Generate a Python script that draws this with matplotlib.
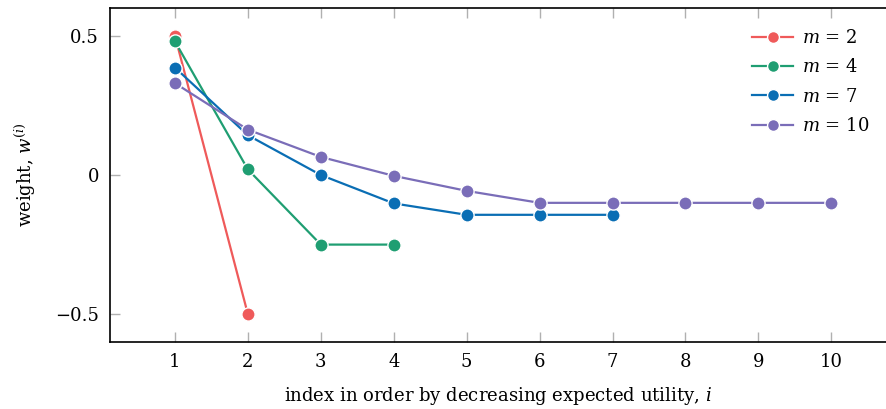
import numpy as np
import matplotlib.pyplot as plt

plt.rcParams['font.family'] = ['DejaVu Serif']
plt.rcParams['mathtext.fontset'] = 'dejavuserif'

# weights per number of alternatives m
idx2 = [1, 2]
w2 = [0.5, -0.5]
idx4 = [1, 2, 3, 4]
w4 = [0.48, 0.02, -0.25, -0.25]
idx7 = [1, 2, 3, 4, 5, 6, 7]
w7 = [0.386, 0.143, 0.0, -0.102, -0.143, -0.143, -0.143]
idx10 = [1, 2, 3, 4, 5, 6, 7, 8, 9, 10]
w10 = [0.33, 0.163, 0.065, -0.003, -0.057, -0.1, -0.1, -0.1, -0.1, -0.1]

series = [
    (idx2, w2, '#ef5a5a', r'$m$ = 2'),
    (idx4, w4, '#1f9e72', r'$m$ = 4'),
    (idx7, w7, '#0a6eb4', r'$m$ = 7'),
    (idx10, w10, '#7a6db8', r'$m$ = 10'),
]

fig = plt.figure(figsize=(8.86, 4.09), dpi=100)
ax = fig.add_axes([0.1242, 0.1638, 0.8758, 0.8166])

for x, y, c, lab in series:
    ax.plot(x, y, '-o', color=c, lw=1.6, ms=9.5, mec='white', mew=1.0, label=lab)

ax.set_xlim(0.11, 10.75)
ax.set_ylim(-0.6, 0.6)
ax.set_xticks(range(1, 11))
ax.set_yticks([-0.5, 0, 0.5])
ax.set_yticklabels(['\u22120.5', '0', '0.5'])
ax.tick_params(direction='in', length=7, width=1, color='#b0b0b0', labelsize=13,
               top=True, pad=8)
ax.spines['right'].set_visible(False)
for s in ['left', 'bottom', 'top']:
    ax.spines[s].set_linewidth(1.2)

ax.set_xlabel(r'index in order by decreasing expected utility, $i$', fontsize=13, labelpad=10)
ax.set_ylabel(r'weight, $w^{(i)}$', fontsize=13, labelpad=12)

ax.legend(loc='upper right', frameon=False, fontsize=13, handlelength=2.3,
          handletextpad=0.5, labelspacing=0.62, bbox_to_anchor=(1.0, 0.985),
          markerscale=0.9)

fig.savefig('out.png', dpi=100)
